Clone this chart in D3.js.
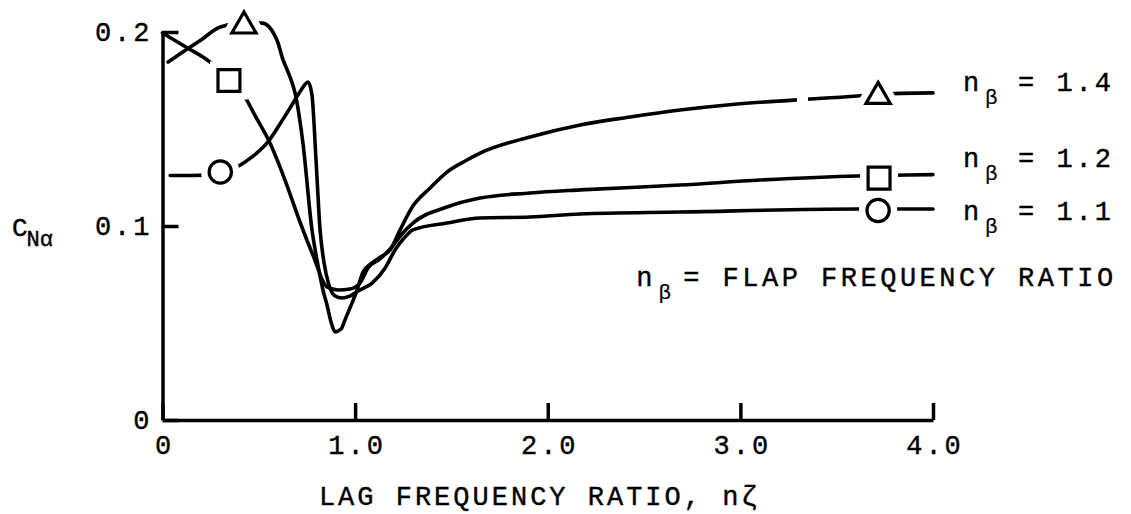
<!DOCTYPE html>
<html>
<head>
<meta charset="utf-8">
<script src="https://cdn.jsdelivr.net/npm/d3@7"></script>
<style>
    body { margin: 0; background: #fff; }
    text { font-family: "Liberation Mono", "DejaVu Sans Mono", monospace; fill: #000; }
</style>
</head>
<body>
<div id="chart"></div>
<script>

// axis ticks
const xTicks = [0, 1, 2, 3, 4];
const yTicks = [0, 0.1, 0.2];

// curves: [n_zeta, C_N_alpha]
const series14 = [
    [0.029, 0.1845], [0.117, 0.1905], [0.2, 0.1959], [0.3, 0.2026], [0.423, 0.2046],
    [0.517, 0.2046], [0.594, 0.1959], [0.626, 0.1856], [0.662, 0.1768], [0.688, 0.1686],
    [0.729, 0.1428], [0.776, 0.098], [0.807, 0.0799], [0.833, 0.067], [0.854, 0.0593],
    [0.875, 0.0505], [0.896, 0.0454], [0.927, 0.0469], [0.947, 0.0515], [0.973, 0.0577],
    [1.01, 0.067], [1.041, 0.0763], [1.088, 0.081], [1.14, 0.0845], [1.181, 0.0876],
    [1.233, 0.0979], [1.30, 0.1103], [1.389, 0.1196], [1.477, 0.1278], [1.571, 0.1335],
    [1.649, 0.1376], [1.908, 0.1459], [2.168, 0.1521], [2.427, 0.1562], [2.687, 0.1598],
    [2.931, 0.1624], [3.274, 0.1649], [3.606, 0.167], [3.715, 0.168], [4.0, 0.1686]
];

const series12 = [
    [0.0, 0.1995], [0.117, 0.1925], [0.247, 0.1845], [0.345, 0.1752], [0.428, 0.1665],
    [0.48, 0.157], [0.558, 0.1428], [0.636, 0.1237], [0.714, 0.102], [0.781, 0.085],
    [0.854, 0.0686], [0.911, 0.067], [0.973, 0.0675], [1.025, 0.0706], [1.067, 0.0784],
    [1.129, 0.083], [1.191, 0.0892], [1.243, 0.0959], [1.30, 0.1015], [1.477, 0.1098],
    [1.649, 0.1144], [1.908, 0.117], [2.168, 0.1186], [2.687, 0.1211], [3.102, 0.1237],
    [3.606, 0.1258], [3.72, 0.126], [4.0, 0.1265]
];

const series11 = [
    [0.04, 0.126], [0.15, 0.126], [0.30, 0.127], [0.387, 0.1304], [0.465, 0.1356],
    [0.543, 0.1428], [0.61, 0.1526], [0.678, 0.1634], [0.719, 0.170], [0.756, 0.1742],
    [0.776, 0.1675], [0.797, 0.134], [0.818, 0.098], [0.838, 0.0814], [0.864, 0.0696],
    [0.896, 0.0639], [0.932, 0.0629], [0.973, 0.0639], [1.015, 0.0665], [1.088, 0.0706],
    [1.156, 0.0784], [1.207, 0.0876], [1.259, 0.0943], [1.30, 0.098], [1.477, 0.1015],
    [1.649, 0.1041], [1.908, 0.1046], [2.168, 0.1062], [2.687, 0.1072], [3.606, 0.1088],
    [3.715, 0.1088], [4.0, 0.1088]
];

// symbol positions on each curve
const markers14 = [[0.423, 0.2031], [3.715, 0.1668]];
const markers12 = [[0.345, 0.175], [3.72, 0.1247]];
const markers11 = [[0.30, 0.1278], [3.715, 0.108]];

// break in the n_beta = 1.4 curve near the right end
const gap14 = [3.294, 3.351];

const labels = ["1.4", "1.2", "1.1"];


let margin = {top: 32, right: 198, bottom: 94, left: 162.5};
let width = 1131 - margin.left - margin.right;
let height = 514 - margin.top - margin.bottom;

let svg = d3.select("#chart").append("svg")
    .attr("width", 1131)
    .attr("height", 514)
    .append("g")
    .attr("transform", "translate(" + margin.left + "," + margin.top + ")");

let x = d3.scaleLinear().domain([0, 4]).range([0, width]);
let y = d3.scaleLinear().domain([0, 0.2]).range([height, 0]);

// clip for the dashed stretch of the top curve
let clip = svg.append("clipPath").attr("id", "gap14");
clip.append("rect")
    .attr("x", -20).attr("y", -40)
    .attr("width", x(gap14[0]) + 20).attr("height", height + 80);
clip.append("rect")
    .attr("x", x(gap14[1])).attr("y", -40)
    .attr("width", width - x(gap14[1]) + 20).attr("height", height + 80);

// axes
let xAxis = d3.axisBottom(x)
    .tickValues(xTicks)
    .tickSize(-17)
    .tickSizeOuter(0)
    .tickPadding(15)
    .tickFormat(d => d === 0 ? "0" : d3.format(".1f")(d));

let yAxis = d3.axisLeft(y)
    .tickValues(yTicks)
    .tickSize(-16)
    .tickSizeOuter(0)
    .tickPadding(10)
    .tickFormat(d => d === 0 ? "0" : d3.format(".1f")(d));

let gx = svg.append("g")
    .attr("class", "x-axis axis")
    .attr("transform", "translate(0," + height + ")")
    .call(xAxis);

let gy = svg.append("g")
    .attr("class", "y-axis axis")
    .call(yAxis);

[gx, gy].forEach(g => {
    g.attr("font-family", null).attr("font-size", null);
    g.select(".domain").attr("stroke", "#000").attr("stroke-width", 3.5);
    g.selectAll(".tick line").attr("stroke", "#000").attr("stroke-width", 3.5);
    g.selectAll(".tick text")
        .attr("font-size", 27)
        .attr("letter-spacing", 3)
        .attr("stroke", "#000")
        .attr("stroke-width", 0.4);
});
gx.selectAll(".tick text").attr("dx", 1.5);

// curves
let line = d3.line()
    .x(d => x(d[0]))
    .y(d => y(d[1]))
    .curve(d3.curveMonotoneX);

let curves = [series14, series12, series11];
svg.selectAll(".curve")
    .data(curves)
    .join("path")
    .attr("class", "curve")
    .attr("fill", "none")
    .attr("stroke", "#000")
    .attr("stroke-width", 3.6)
    .attr("stroke-linejoin", "round")
    .attr("stroke-linecap", "round")
    .attr("clip-path", (d, i) => i === 0 ? "url(#gap14)" : null)
    .attr("d", line);

// symbols, with a white halo so the curve breaks around them
let symbolSets = [
    {pts: markers14, type: d3.symbolTriangle, size: 255},
    {pts: markers12, type: d3.symbolSquare, size: 480},
    {pts: markers11, type: d3.symbolCircle, size: 390}
];

symbolSets.forEach(s => {
    let sym = d3.symbol().type(s.type).size(s.size);
    svg.selectAll(null)
        .data(s.pts)
        .join("path")
        .attr("transform", d => "translate(" + x(d[0]) + "," + y(d[1]) + ")")
        .attr("d", sym)
        .attr("fill", "#fff")
        .attr("stroke", "#fff")
        .attr("stroke-width", 16);
    svg.selectAll(null)
        .data(s.pts)
        .join("path")
        .attr("transform", d => "translate(" + x(d[0]) + "," + y(d[1]) + ")")
        .attr("d", sym)
        .attr("fill", "#fff")
        .attr("stroke", "#000")
        .attr("stroke-width", 3.2)
        .attr("stroke-linejoin", "miter");
});

// curve labels at the right
let labelDy = [-2, -8, 11];
let labelX = x(4) + 30;
curves.forEach((c, i) => {
    let ly = y(c[c.length - 1][1]) + labelDy[i];
    let t = svg.append("text")
        .attr("y", ly)
        .attr("font-size", 27)
        .attr("stroke", "#000")
        .attr("stroke-width", 0.4);
    t.append("tspan").attr("x", labelX).text("n");
    t.append("tspan").attr("x", labelX + 22).attr("dy", 13)
        .attr("font-size", 21).attr("stroke-width", 0.2).text("β");
    t.append("tspan").attr("x", labelX + 55).attr("dy", -13)
        .attr("letter-spacing", 3).text("= " + labels[i]);
});

// note
let note = svg.append("text")
    .attr("x", x(2.46))
    .attr("y", y(0.069))
    .attr("font-size", 27)
    .attr("stroke", "#000")
    .attr("stroke-width", 0.4);
note.append("tspan").text("n");
note.append("tspan").attr("dx", 6).attr("dy", 13)
    .attr("font-size", 21).attr("stroke-width", 0.2).text("β");
note.append("tspan").attr("dx", 12).attr("dy", -13)
    .attr("letter-spacing", 3.5).text("= FLAP FREQUENCY RATIO");

// axis titles
svg.append("text")
    .attr("x", x(2) - 8)
    .attr("y", height + 85)
    .attr("text-anchor", "middle")
    .attr("font-size", 27)
    .attr("letter-spacing", 3)
    .attr("stroke", "#000")
    .attr("stroke-width", 0.4)
    .text("LAG FREQUENCY RATIO, nζ");

let yTitle = svg.append("text")
    .attr("x", 12 - margin.left)
    .attr("y", y(0.1) + 10)
    .attr("font-size", 26)
    .attr("stroke", "#000")
    .attr("stroke-width", 0.4);
yTitle.append("tspan").text("C");
yTitle.append("tspan").attr("dx", -1).attr("dy", 10).attr("font-size", 22).text("Nα");

</script>
</body>
</html>
